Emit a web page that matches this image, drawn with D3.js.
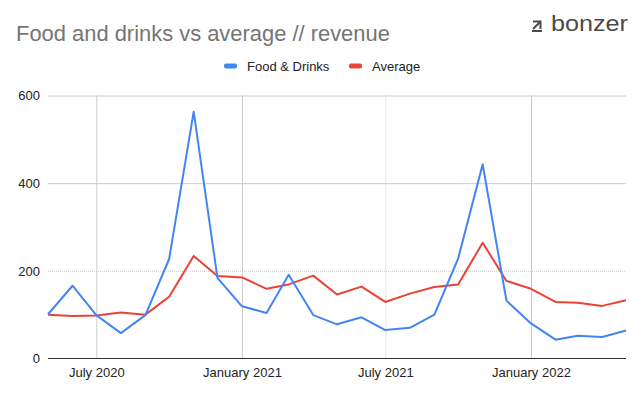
<!DOCTYPE html>
<html>
<head>
<meta charset="utf-8">
<script src="https://cdn.jsdelivr.net/npm/d3@7"></script>
<style>
  body { margin: 0; background: #fff; }
  text { font-family: Arial, "Liberation Sans", sans-serif; }
</style>
</head>
<body>
<div id="chart"></div>
<script>
// monthly values, May 2020 .. May 2022
var months = ["2020-05", "2020-06", "2020-07", "2020-08", "2020-09", "2020-10", "2020-11", "2020-12",
              "2021-01", "2021-02", "2021-03", "2021-04", "2021-05", "2021-06", "2021-07", "2021-08",
              "2021-09", "2021-10", "2021-11", "2021-12", "2022-01", "2022-02", "2022-03", "2022-04", "2022-05"];
var foodDrinks = [101, 166, 99, 58, 99, 227, 563, 184, 119, 104, 191, 99, 78, 94, 65, 70,
                  100, 228, 443, 132, 80, 43, 52, 49, 64];
var average = [100, 97, 98, 105, 100, 141, 234, 188, 185, 159, 169, 189, 146, 164, 129, 148,
               163, 169, 264, 177, 159, 129, 127, 120, 133];
var xTicks = ["2020-07", "2021-01", "2021-07", "2022-01"];
var yTicks = [0, 200, 400, 600];

var W = 644, H = 399;
var margin = {top: 95.5, right: 18, bottom: 40.5, left: 48},
    width = W - margin.left - margin.right,
    height = H - margin.top - margin.bottom;

var parse = d3.timeParse("%Y-%m");
var dates = months.map(parse);

var svg = d3.select("#chart")
  .append("svg")
    .attr("width", W)
    .attr("height", H);

// title, sized to the reference width
var title = svg.append("text")
  .attr("x", 16)
  .attr("y", 41)
  .style("font-size", "20px")
  .style("fill", "#757575")
  .text("Food and drinks vs average // revenue");
var tw = title.node().getComputedTextLength();
title.style("font-size", (20 * 374 / tw) + "px");

// logo
var logo = svg.append("g").attr("fill", "none").attr("stroke", "#4a4a4a").attr("stroke-width", 2);
logo.append("path").attr("d", "M533,21.5 H540.5 V29");
logo.append("path").attr("d", "M540.5,21.5 L533,29");
logo.append("path").attr("d", "M532,31 H542");
svg.append("text")
  .attr("x", 551)
  .attr("y", 31)
  .attr("textLength", 77)
  .attr("lengthAdjust", "spacingAndGlyphs")
  .style("font-size", "22px")
  .style("fill", "#4a4a4a")
  .text("bonzer");

// legend
var series = [
  {name: "Food & Drinks", values: foodDrinks, color: "#4285f4"},
  {name: "Average", values: average, color: "#ea4335"}
];
var legendX = [224, 349];
var legend = svg.selectAll(".legend")
  .data(series)
  .enter()
  .append("g")
    .attr("transform", function(d, i) { return "translate(" + legendX[i] + ",66)"; });
legend.append("rect")
  .attr("x", 0).attr("y", -2.5)
  .attr("width", 13).attr("height", 5)
  .attr("rx", 2)
  .attr("fill", function(d) { return d.color; });
legend.append("text")
  .attr("x", 23)
  .attr("y", 5)
  .style("font-size", "13px")
  .style("fill", "#222")
  .text(function(d) { return d.name; });

var g = svg.append("g")
  .attr("transform", "translate(" + margin.left + "," + margin.top + ")");

// scales
var x = d3.scaleTime()
  .domain(d3.extent(dates))
  .range([0, width]);
var y = d3.scaleLinear()
  .domain([0, 600])
  .range([height, 0]);

// vertical gridlines
var xGrid = g.append("g")
  .attr("transform", "translate(0," + height + ")")
  .call(d3.axisBottom(x).tickValues(xTicks.map(parse)).tickSize(-height).tickFormat(""));
xGrid.select(".domain").remove();
xGrid.selectAll("line")
  .attr("stroke", "#cccccc")
  .attr("stroke-dasharray", function(d, i) { return i === 2 ? "1,1" : null; });

// horizontal gridlines
var yGrid = g.append("g")
  .call(d3.axisLeft(y).tickValues(yTicks.slice(1)).tickSize(-width).tickFormat(""));
yGrid.select(".domain").remove();
yGrid.selectAll("line")
  .attr("stroke", "#cccccc")
  .attr("stroke-dasharray", function(d) { return d === 200 ? "1,1" : null; });

// x axis labels
var xAxis = g.append("g")
  .attr("transform", "translate(0," + height + ")")
  .call(d3.axisBottom(x).tickValues(xTicks.map(parse)).tickSize(0).tickPadding(9)
    .tickFormat(d3.timeFormat("%B %Y")));
xAxis.select(".domain").remove();
xAxis.selectAll("text")
  .style("font-size", "13px")
  .style("font-family", "Arial, 'Liberation Sans', sans-serif")
  .style("fill", "#222");

// y axis labels
var yAxis = g.append("g")
  .call(d3.axisLeft(y).tickValues(yTicks).tickSize(0).tickPadding(8));
yAxis.select(".domain").remove();
yAxis.selectAll("text")
  .style("font-size", "13px")
  .style("font-family", "Arial, 'Liberation Sans', sans-serif")
  .style("fill", "#222");

// baseline
g.append("line")
  .attr("x1", 0).attr("x2", width)
  .attr("y1", y(0)).attr("y2", y(0))
  .attr("stroke", "#333")
  .attr("stroke-width", 1);

// lines
var line = d3.line()
  .x(function(d, i) { return x(dates[i]); })
  .y(function(d) { return y(d); });

g.selectAll(".series")
  .data(series.slice().reverse())
  .enter()
  .append("path")
    .attr("fill", "none")
    .attr("stroke", function(d) { return d.color; })
    .attr("stroke-width", 2)
    .attr("stroke-linejoin", "round")
    .attr("d", function(d) { return line(d.values); });
</script>
</body>
</html>
